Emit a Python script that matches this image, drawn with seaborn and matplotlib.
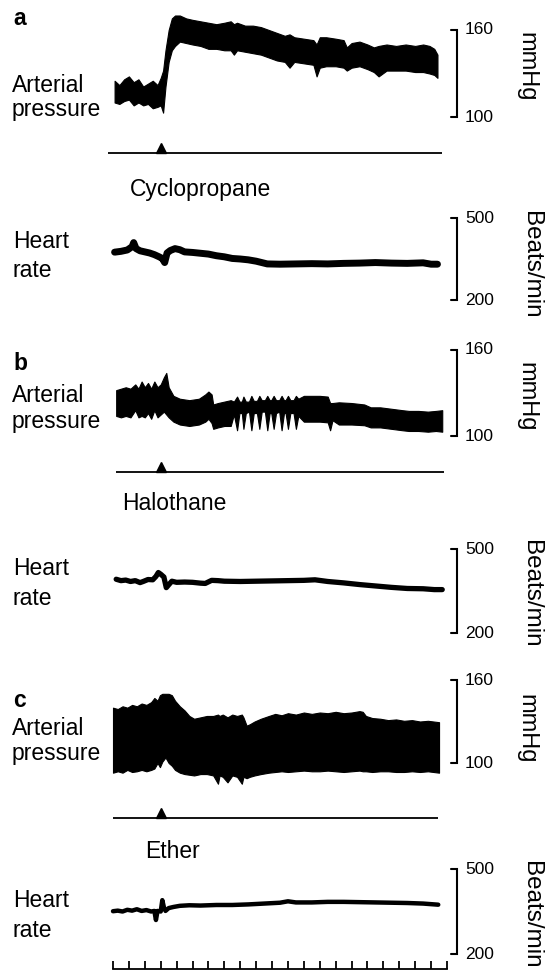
import matplotlib
matplotlib.use("Agg")
import matplotlib.pyplot as plt
import seaborn as sns
import pandas as pd

# ── Data (time in minutes) ────────────────────────────────────────────────────
EVENT_TIME = 3.0
TICK_MINUTES = list(range(22))

# a: cyclopropane
AP_A_T = [0.1, 0.4, 0.7, 1.0, 1.3, 1.6, 1.9, 2.2, 2.5, 2.8,
          3.0, 3.15, 3.3, 3.5, 3.7, 3.9, 4.2, 4.6, 5.0, 5.5,
          6.0, 6.5, 7.0, 7.4, 7.6, 7.8, 8.3, 8.8, 9.3, 9.8,
          10.3, 10.8, 11.1, 11.4, 12.0, 12.6, 12.8, 13.0, 13.4, 14.0,
          14.5, 14.7, 15.0, 15.5, 16.0, 16.4, 16.7, 17.2, 17.8, 18.4,
          19.0, 19.5, 19.9, 20.2, 20.4]
AP_A_HI = [125, 122, 126, 128, 124, 126, 121, 123, 125, 122,
           127, 132, 146, 160, 168, 170, 170, 168, 167, 166,
           165, 164, 165, 166, 164, 165, 163, 163, 162, 160,
           158, 156, 157, 155, 154, 153, 150, 155, 155, 154,
           153, 148, 151, 152, 150, 148, 149, 150, 149, 150,
           149, 150, 149, 147, 143]
AP_A_LO = [110, 109, 111, 112, 108, 110, 108, 109, 106, 107,
           108, 103, 121, 138, 146, 149, 152, 151, 150, 149,
           147, 147, 146, 146, 143, 146, 145, 144, 143, 141,
           139, 138, 134, 138, 137, 136, 128, 134, 135, 135,
           134, 132, 134, 135, 133, 131, 128, 132, 132, 132,
           131, 131, 130, 129, 127]
HR_A_T = [0.1, 0.5, 0.9, 1.2, 1.3, 1.45, 1.7, 2.0, 2.3, 2.6,
          2.9, 3.1, 3.25, 3.4, 3.6, 3.9, 4.2, 4.5, 5.0, 5.5,
          6.0, 6.5, 7.0, 7.5, 8.0, 8.5, 9.0, 9.7, 10.5, 11.5,
          12.5, 13.5, 14.5, 15.5, 16.5, 17.5, 18.5, 19.5, 20.0, 20.4]
HR_A = [375, 378, 383, 395, 410, 388, 380, 376, 372, 366,
        358, 352, 337, 372, 381, 388, 384, 376, 374, 371,
        368, 362, 358, 352, 350, 347, 342, 332, 331, 332,
        333, 332, 334, 335, 337, 335, 334, 336, 331, 331]

# b: halothane
AP_B_T = [0.2, 0.5, 0.8, 1.1, 1.4, 1.6, 1.8, 2.0, 2.2, 2.4,
          2.6, 2.8, 3.0, 3.2, 3.35, 3.5, 3.8, 4.2, 4.8, 5.4,
          5.8, 6.0, 6.2, 6.3, 6.6, 7.0, 7.4, 7.6, 7.8, 7.95,
          8.1, 8.2, 8.35, 8.55, 8.7, 8.85, 9.05, 9.2, 9.35, 9.55,
          9.7, 9.85, 9.95, 10.1, 10.25, 10.45, 10.6, 10.75, 10.85, 11.0,
          11.15, 11.35, 11.5, 11.65, 12.0, 12.5, 13.0, 13.5, 13.65, 13.8,
          14.2, 15.0, 15.8, 16.2, 16.8, 17.5, 18.2, 18.6, 19.2, 19.8,
          20.3, 20.7]
AP_B_HI = [132, 133, 134, 133, 136, 133, 138, 134, 137, 133,
           138, 134, 136, 141, 144, 134, 128, 126, 125, 126,
           129, 131, 129, 122, 123, 124, 125, 124, 127.5, 124,
           124, 127.5, 124, 124, 128, 124.5, 124.5, 128, 125, 125,
           128, 125, 125, 128, 125, 125, 128, 125, 125, 128,
           125, 125, 128, 126, 128, 128, 128, 127.5, 123, 123,
           123.5, 123, 122, 120, 120, 119, 118, 117.5, 117.5, 117,
           117.5, 118]
AP_B_LO = [114, 113, 114, 113, 118, 113, 114, 113, 116, 112,
           118, 113, 115, 117, 115, 113, 110, 108, 107, 108,
           110, 112, 109, 105, 106, 107, 107, 115, 104, 116,
           116, 105, 116, 117, 104, 116, 116, 105, 117, 117,
           104, 116, 116, 105, 116, 117, 104, 116, 116, 105,
           116, 116, 105, 114, 110, 110, 110, 109.5, 104, 111,
           108, 108, 107.5, 106, 106, 105, 104, 103.5, 103.5, 103,
           103.5, 103]
HR_B_T = [0.2, 0.5, 0.8, 1.1, 1.4, 1.7, 1.9, 2.2, 2.5, 2.7,
          2.85, 3.0, 3.2, 3.35, 3.5, 3.7, 4.0, 4.5, 5.0, 5.5,
          5.8, 6.2, 6.6, 7.0, 8.0, 9.0, 10.0, 11.0, 12.0, 12.7,
          13.5, 14.5, 15.5, 16.5, 17.5, 18.5, 19.5, 20.2, 20.7]
HR_B = [392, 387, 389, 384, 387, 380, 384, 391, 390, 402,
        416, 410, 400, 362, 372, 385, 381, 382, 381, 378,
        377, 388, 387, 385, 384, 385, 386, 387, 388, 390,
        384, 379, 373, 368, 363, 359, 358, 355, 355]

# c: ether
AP_C_T = [0.0, 0.3, 0.6, 0.9, 1.2, 1.5, 1.8, 2.1, 2.4, 2.6,
          2.8, 2.95, 3.1, 3.3, 3.5, 3.7, 3.9, 4.2, 4.5, 4.8,
          5.1, 5.5, 5.9, 6.3, 6.6, 6.7, 6.9, 7.2, 7.5, 7.8,
          8.1, 8.2, 8.4, 8.6, 8.9, 9.3, 9.8, 10.2, 10.6, 11.0,
          11.5, 12.0, 12.5, 13.0, 13.5, 14.0, 14.5, 15.0, 15.5, 15.7,
          15.9, 16.3, 16.8, 17.3, 17.8, 18.3, 18.8, 19.3, 19.8, 20.5]
AP_C_HI = [140, 139, 141, 140, 142, 141, 143, 142, 144, 147,
           145, 149, 150, 150, 150, 149, 145, 141, 138, 134,
           132, 133, 134, 134, 135, 134, 135, 133, 135, 134,
           135, 133, 127, 128, 130, 132, 134, 135.5, 134.5, 136,
           135, 136.5, 135.5, 136.5, 136, 137, 136, 136.5, 137.5, 137,
           134, 132.5, 132, 131, 131.5, 130.5, 131, 130, 130.5, 129.5]
AP_C_LO = [93, 94, 93, 95, 93.5, 94, 95, 94, 95, 96,
           100, 97, 101, 104, 100, 98, 95, 93, 92, 91.5,
           91, 92, 92, 91, 85, 91, 90, 86, 91, 90,
           85, 90, 89, 90, 91, 92, 93, 93.5, 94, 93.5,
           94, 94.5, 94, 94, 94.5, 94, 93.5, 94, 94.5, 94,
           94, 93.5, 94, 94, 93.5, 93.5, 94, 93.5, 94, 93]
HR_C_T = [0.0, 0.3, 0.6, 0.9, 1.2, 1.5, 1.8, 2.1, 2.4, 2.6,
          2.7, 2.8, 3.0, 3.1, 3.2, 3.3, 3.5, 3.8, 4.2, 4.8,
          5.5, 6.5, 7.5, 8.5, 9.5, 10.5, 11.0, 11.5, 12.5, 13.5,
          14.5, 15.5, 16.5, 17.5, 18.5, 19.5, 20.45]
HR_C = [351, 353, 350, 356, 353, 358, 352, 355, 350, 352,
        320, 352, 350, 390, 365, 352, 362, 366, 370, 372,
        371, 373, 373, 375, 378, 381, 386, 382, 382, 384,
        384, 383, 382, 381, 380, 378, 374]

PANELS = ["a", "b", "c"]
DRUGS = ["Cyclopropane", "Halothane", "Ether"]
EVENT_SPAN = [(-0.3, 20.7), (0.2, 20.8), (0.0, 20.45)]
AP_SCALE = (100, 160)
HR_SCALE = (200, 500)

# ── Layout (pixels) ───────────────────────────────────────────────────────────
W, H = 546, 972
X_T0, X_T21 = 113, 447          # pixel x of minute 0 and minute 21
PPM = (X_T21 - X_T0) / 21
X_BAR = 457
FS = 16.5

AP_ROWS = [(30, 117), (350, 436), (680, 763)]     # px of 160 / 100 mmHg
HR_ROWS = [(218, 300), (549, 633), (869, 954)]    # px of 500 / 200 beats
EVENT_Y = [153, 472, 818]
HR_LW = [5.0, 3.8, 3.2]

sns.set_theme(style="white")
plt.rcParams["font.family"] = ["Liberation Sans", "DejaVu Sans"]

fig = plt.figure(figsize=(W / 100, H / 100), dpi=100)
fig.patch.set_facecolor("white")


def px_axes(y_top, y_bot, lo, hi):
    ax = fig.add_axes([0, 1 - y_bot / H, 1, (y_bot - y_top) / H])
    ax.set_xlim(-X_T0 / PPM, (W - X_T0) / PPM)
    ax.set_ylim(lo, hi)
    ax.axis("off")
    ax.patch.set_alpha(0)
    return ax


def ftext(x, y, s, **kw):
    kw.setdefault("fontsize", FS)
    kw.setdefault("va", "baseline")
    fig.text(x / W, 1 - y / H, s, color="black", **kw)


def scale_bar(ax, lo, hi, y_top, y_bot, unit, unit_x, unit_y, unit_fs):
    tb = (X_BAR - X_T0) / PPM
    hook = 6 / PPM
    ax.plot([tb - hook, tb, tb, tb - hook], [hi, hi, lo, lo],
            color="black", lw=1.5, clip_on=False, solid_joinstyle="miter")
    ftext(X_BAR + 8, y_top, str(hi), fontsize=12.5, va="center")
    ftext(X_BAR + 8, y_bot, str(lo), fontsize=12.5, va="center")
    ftext(unit_x, unit_y, unit, rotation=270, ha="center", va="center",
          fontsize=unit_fs)


ap_data = [(AP_A_T, AP_A_HI, AP_A_LO), (AP_B_T, AP_B_HI, AP_B_LO),
           (AP_C_T, AP_C_HI, AP_C_LO)]
hr_data = [(HR_A_T, HR_A), (HR_B_T, HR_B), (HR_C_T, HR_C)]
letter_y = [25, 370, 707]
art_y = [(92, 116), (402, 428), (735, 760)]
heart_y = [(248, 277), (575, 605), (907, 937)]
drug_xy = [(130, 196), (122, 510), (145, 858)]
mmhg_y = [67, 397, 729]
beats_y = [265, 594, 915]

for i in range(3):
    # arterial pressure band
    t, hi, lo = ap_data[i]
    y_top, y_bot = AP_ROWS[i]
    ax = px_axes(y_top, y_bot, AP_SCALE[0], AP_SCALE[1])
    ax.fill_between(t, lo, hi, color="black", lw=0.8, edgecolor="black",
                    clip_on=False)
    scale_bar(ax, AP_SCALE[0], AP_SCALE[1], y_top, y_bot, "mmHg", 526,
              mmhg_y[i], 17)

    # heart rate trace
    t, hr = hr_data[i]
    y_top, y_bot = HR_ROWS[i]
    ax = px_axes(y_top, y_bot, HR_SCALE[0], HR_SCALE[1])
    df = pd.DataFrame({"t": t, "hr": hr})
    sns.lineplot(data=df, x="t", y="hr", ax=ax, color="black",
                 lw=HR_LW[i], estimator=None, sort=False)
    ax.axis("off")
    ax.lines[0].set_clip_on(False)
    scale_bar(ax, HR_SCALE[0], HR_SCALE[1], y_top, y_bot, "Beats/min", 531,
              beats_y[i], 17.5)

    # event marker line
    ey = EVENT_Y[i]
    ax = px_axes(ey - 12, ey, 0, 12)
    ax.hlines(0, EVENT_SPAN[i][0], EVENT_SPAN[i][1], color="black", lw=1.3,
              clip_on=False)
    ax.plot([EVENT_TIME], [4.8], marker="^", ms=7, color="black",
            clip_on=False)

    # labels
    ftext(13, letter_y[i], PANELS[i], fontweight="bold")
    ftext(12, art_y[i][0], "Arterial")
    ftext(12, art_y[i][1], "pressure")
    ftext(13, heart_y[i][0], "Heart")
    ftext(13, heart_y[i][1], "rate")
    ftext(drug_xy[i][0], drug_xy[i][1], DRUGS[i])

# time scale (1 min ticks)
ax_t = px_axes(955, 969, 0, 1)
ax_t.axis("on")
for side in ["top", "left", "right"]:
    ax_t.spines[side].set_visible(False)
ax_t.spines["bottom"].set_color("black")
ax_t.spines["bottom"].set_linewidth(1.3)
ax_t.spines["bottom"].set_bounds(TICK_MINUTES[0], TICK_MINUTES[-1])
ax_t.set_xticks(TICK_MINUTES)
ax_t.set_yticks([])
ax_t.tick_params(axis="x", direction="in", length=6, width=1.3,
                 color="black", labelbottom=False, bottom=True)
ax_t.grid(False)

fig.savefig("out.png", dpi=100, facecolor="white")
